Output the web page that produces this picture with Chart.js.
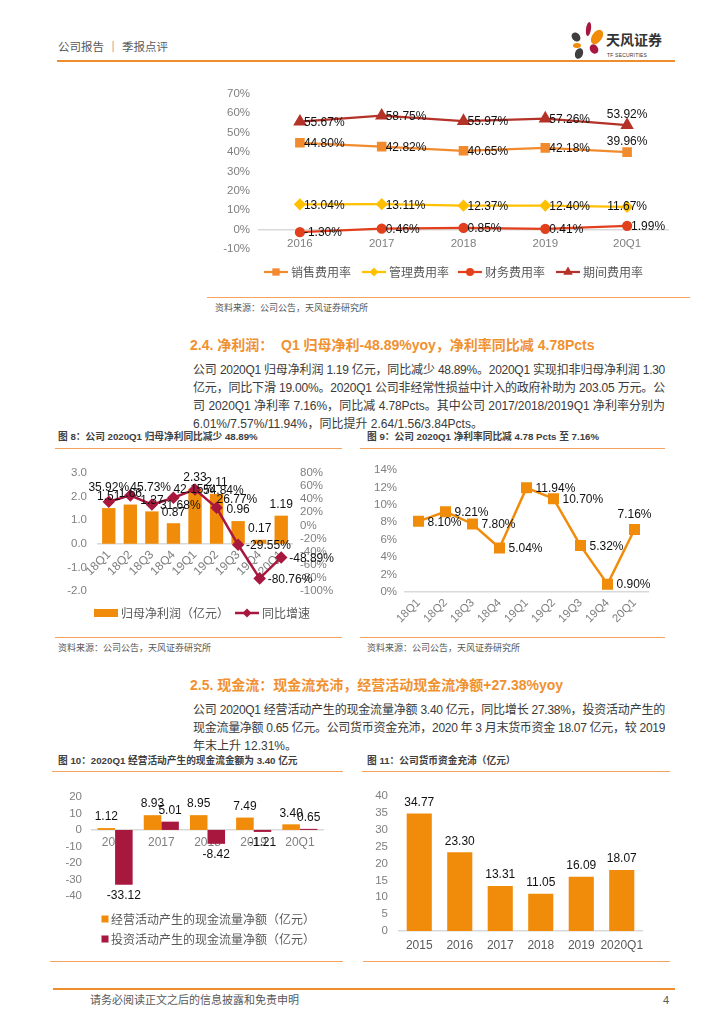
<!DOCTYPE html>
<html lang="zh-CN">
<head>
<meta charset="utf-8">
<title>季报点评</title>
<script src="https://cdn.jsdelivr.net/npm/chart.js@4.4.1/dist/chart.umd.min.js"></script>
<style>
  body { margin: 0; width: 724px; height: 1024px; position: relative; overflow: hidden; background: #fff;
         font-family: "Liberation Sans", "Noto Sans CJK SC", sans-serif; color: #333; }
  .abs { position: absolute; white-space: nowrap; }
  .rule { position: absolute; height: 0; border-top: 1px solid #F5A460; }
  .thick { border-top: 2px solid #EF8C2C; }
  .h2 { position: absolute; left: 190px; font-size: 14px; font-weight: bold; color: #F0912F; line-height: 20px; white-space: nowrap; }
  .para { position: absolute; left: 193px; width: 472px; font-size: 12px; line-height: 18px; color: #3a3a3a; }
  .para div { white-space: nowrap; overflow: hidden; text-align: justify; text-align-last: justify; }
  .para div.last { text-align-last: left; }
  .ftitle { position: absolute; font-size: 9.7px; font-weight: bold; color: #404040; line-height: 14px; white-space: nowrap; }
  .src { position: absolute; font-size: 9px; color: #595959; line-height: 12px; white-space: nowrap; }
  canvas { position: absolute; }
  .petal { position: absolute; border-radius: 50%; }
</style>
</head>
<body>

<!-- header -->
<div class="abs" style="left:58px; top:40px; font-size:11.5px; color:#595959; line-height:14px;">公司报告 ｜ 季报点评</div>
<div class="petal" style="left:586px; top:22px; width:5px; height:14px; background:#A8173D; transform:rotate(8deg);"></div>
<div class="petal" style="left:592px; top:29px; width:10px; height:16px; background:#F08C0A; transform:rotate(35deg);"></div>
<div class="petal" style="left:572px; top:32px; width:8px; height:10px; background:#3f3f3f; transform:rotate(-40deg);"></div>
<div class="petal" style="left:573px; top:43px; width:8px; height:5px; background:#F08C0A;"></div>
<div class="petal" style="left:590px; top:44px; width:8px; height:10px; background:#A8173D; transform:rotate(-35deg);"></div>
<div class="petal" style="left:575px; top:48px; width:8px; height:11px; background:#3f3f3f; transform:rotate(20deg);"></div>
<div class="abs" style="left:606px; top:31px; font-size:14px; font-weight:bold; color:#333; line-height:16px; font-family:'Noto Sans CJK SC';">天风证券</div>
<div class="abs" style="left:607px; top:52px; font-size:5px; color:#333; line-height:6px; letter-spacing:0.2px;">TF SECURITIES</div>
<div class="rule thick" style="left:57px; top:60px; width:618px;"></div>

<!-- top chart -->
<canvas id="rateChart" width="485" height="210" style="left:205px; top:78px;"></canvas>
<div class="rule" style="left:207px; top:297px; width:483px;"></div>
<div class="src" style="left:215px; top:302px;">资料来源：公司公告，天风证券研究所</div>

<!-- 2.4 -->
<div class="h2" style="top:335px;">2.4. 净利润：&nbsp; Q1 归母净利-48.89%yoy，净利率同比减 4.78Pcts</div>
<div class="para" style="top:361px;">
  <div>公司 2020Q1 归母净利润 1.19 亿元，同比减少 48.89%。2020Q1 实现扣非归母净利润 1.30</div>
  <div>亿元，同比下滑 19.00%。2020Q1 公司非经常性损益中计入的政府补助为 203.05 万元。公</div>
  <div>司 2020Q1 净利率 7.16%，同比减 4.78Pcts。其中公司 2017/2018/2019Q1 净利率分别为</div>
  <div class="last">6.01%/7.57%/11.94%，同比提升 2.64/1.56/3.84Pcts。</div>
</div>

<div class="ftitle" style="left:58px; top:430px;">图 8：公司 2020Q1 归母净利同比减少 48.89%</div>
<div class="rule" style="left:55px; top:448px; width:287px;"></div>
<canvas id="profitChart" width="290" height="175" style="left:55px; top:455px;"></canvas>
<div class="rule" style="left:55px; top:637px; width:287px;"></div>
<div class="src" style="left:58px; top:642px;">资料来源：公司公告，天风证券研究所</div>

<div class="ftitle" style="left:367px; top:430px;">图 9：公司 2020Q1 净利率同比减 4.78 Pcts 至 7.16%</div>
<div class="rule" style="left:360px; top:448px; width:305px;"></div>
<canvas id="marginChart" width="305" height="175" style="left:360px; top:455px;"></canvas>
<div class="rule" style="left:360px; top:637px; width:305px;"></div>
<div class="src" style="left:367px; top:642px;">资料来源：公司公告，天风证券研究所</div>

<!-- 2.5 -->
<div class="h2" style="top:675px;">2.5. 现金流：现金流充沛，经营活动现金流净额+27.38%yoy</div>
<div class="para" style="top:701px;">
  <div>公司 2020Q1 经营活动产生的现金流量净额 3.40 亿元，同比增长 27.38%，投资活动产生的</div>
  <div>现金流量净额 0.65 亿元。公司货币资金充沛，2020 年 3 月末货币资金 18.07 亿元，较 2019</div>
  <div class="last">年末上升 12.31%。</div>
</div>

<div class="ftitle" style="left:58px; top:754px;">图 10：2020Q1 经营活动产生的现金流金额为 3.40 亿元</div>
<div class="rule" style="left:52px; top:771px; width:291px;"></div>
<canvas id="cashChart" width="290" height="175" style="left:55px; top:780px;"></canvas>
<div class="rule" style="left:50px; top:961px; width:293px;"></div>

<div class="ftitle" style="left:367px; top:754px;">图 11：公司货币资金充沛（亿元）</div>
<div class="rule" style="left:362px; top:771px; width:308px;"></div>
<canvas id="fundChart" width="300" height="180" style="left:360px; top:778px;"></canvas>
<div class="rule" style="left:363px; top:961px; width:307px;"></div>

<!-- footer -->
<div class="rule thick" style="left:53px; top:988px; width:622px;"></div>
<div class="abs" style="left:90px; top:993px; font-size:11px; color:#595959; line-height:14px;">请务必阅读正文之后的信息披露和免责申明</div>
<div class="abs" style="left:663px; top:993px; font-size:11px; color:#595959; line-height:14px;">4</div>

<script>
// squeeze any paragraph line that is wider than the column
document.querySelectorAll('.para div').forEach(line => {
    let ls = 0;
    while (line.scrollWidth > line.clientWidth && ls > -2) {
        ls -= 0.1;
        line.style.letterSpacing = ls.toFixed(1) + 'px';
    }
});
</script>

<script>
// 费用率
const yearLabels = ['2016', '2017', '2018', '2019', '20Q1'];
const salesRate = [44.80, 42.82, 40.65, 42.18, 39.96];
const adminRate = [13.04, 13.11, 12.37, 12.40, 11.67];
const financeRate = [-1.30, 0.46, 0.85, 0.41, 1.99];
const periodRate = [55.67, 58.75, 55.97, 57.26, 53.92];

// 归母净利 / 净利率
const quarterLabels = ['18Q1', '18Q2', '18Q3', '18Q4', '19Q1', '19Q2', '19Q3', '19Q4', '20Q1'];
const netProfit = [1.51, 1.66, 1.37, 0.87, 2.33, 2.11, 0.96, 0.17, 1.19];
const profitYoy = [35.92, 45.73, 31.68, 42.15, 54.84, 26.77, -29.55, -80.76, -48.89];
const netMargin = [8.10, 9.21, 7.80, 5.04, 11.94, 10.70, 5.32, 0.90, 7.16];

// 现金流
const cashLabels = ['2016', '2017', '2018', '2019', '20Q1'];
const operatingCash = [1.12, 8.93, 8.95, 7.49, 3.40];
const investingCash = [-33.12, 5.01, -8.42, -1.21, 0.65];

// 货币资金
const fundLabels = ['2015', '2016', '2017', '2018', '2019', '2020Q1'];
const monetaryFunds = [34.77, 23.30, 13.31, 11.05, 16.09, 18.07];

const ORANGE = '#F08C0A';
const CRIMSON = '#A8173D';
const AXIS_GRAY = '#595959';
const LINE_GRAY = '#D9D9D9';
const NUM_FONT = '"Liberation Sans", Arial, sans-serif';

Chart.defaults.font.family = NUM_FONT;
Chart.defaults.color = AXIS_GRAY;

const drawMarker = (ctx, style, r, x, y) => {
    ctx.beginPath();
    if (style === 'rect') {
        const s = r * Math.SQRT1_2;
        ctx.rect(x - s, y - s, 2 * s, 2 * s);
    } else if (style === 'rectRot') {
        ctx.moveTo(x, y - r); ctx.lineTo(x + r, y); ctx.lineTo(x, y + r); ctx.lineTo(x - r, y);
        ctx.closePath();
    } else if (style === 'triangle') {
        for (let k = 0; k < 3; k++) {
            const a = k * 2 * Math.PI / 3;
            ctx[k ? 'lineTo' : 'moveTo'](x + Math.sin(a) * r, y - Math.cos(a) * r);
        }
        ctx.closePath();
    } else {
        ctx.arc(x, y, r, 0, Math.PI * 2);
    }
    ctx.fill();
};

// data labels, read from the drawn elements
const pointLabels = {
    id: 'pointLabels',
    afterDatasetsDraw(chart) {
        const ctx = chart.ctx;
        chart.data.datasets.forEach((ds, i) => {
            if (!ds.labelAt) return;
            const meta = chart.getDatasetMeta(i);
            const gap = ds.labelGap || 5;
            ctx.save();
            ctx.font = '12px ' + NUM_FONT;
            ctx.fillStyle = '#111';
            ctx.textBaseline = 'middle';
            meta.data.forEach((el, j) => {
                const v = ds.data[j];
                let mode = Array.isArray(ds.labelAt) ? ds.labelAt[j] : ds.labelAt;
                if (mode === 'end') mode = v < 0 ? 'b' : 't';
                let x = el.x, y = el.y;
                ctx.textAlign = 'center';
                if (mode === 'r') { ctx.textAlign = 'left'; x += gap; y += 1; }
                else if (mode === 'tr') { ctx.textAlign = 'left'; y -= gap; }
                else if (mode === 't') { y -= gap + 6; }
                else if (mode === 'b') { y += gap + 6; }
                ctx.fillText(ds.labelFormat(v), x, y);
            });
            ctx.restore();
        });
    }
};

// legend row drawn from the dataset styles
const rowLegend = {
    id: 'rowLegend',
    afterDraw(chart, args, opts) {
        if (!opts || !opts.items) return;
        const ctx = chart.ctx;
        ctx.save();
        ctx.font = '12px "Noto Sans CJK SC", sans-serif';
        ctx.textBaseline = 'middle';
        ctx.textAlign = 'left';
        opts.items.forEach(it => {
            const ds = chart.data.datasets[it.ds];
            let textX;
            if (it.kind === 'line') {
                ctx.strokeStyle = ds.borderColor;
                ctx.lineWidth = ds.borderWidth;
                ctx.beginPath();
                ctx.moveTo(it.x - 12, it.y);
                ctx.lineTo(it.x + 12, it.y);
                ctx.stroke();
                ctx.fillStyle = ds.pointBackgroundColor || ds.borderColor;
                drawMarker(ctx, ds.pointStyle, ds.pointRadius, it.x, it.y);
                textX = it.x + 15;
            } else if (it.kind === 'bar') {
                ctx.fillStyle = ds.backgroundColor;
                ctx.fillRect(it.x - 12, it.y - 4, 24, 8);
                textX = it.x + 15;
            } else {
                ctx.fillStyle = ds.backgroundColor;
                ctx.fillRect(it.x - 3.5, it.y - 3.5, 7, 7);
                textX = it.x + 6;
            }
            ctx.fillStyle = AXIS_GRAY;
            ctx.fillText(ds.label, textX, it.y);
        });
        ctx.restore();
    }
};

Chart.register(pointLabels, rowLegend);

const pct = v => v.toFixed(2) + '%';
const num = v => v.toFixed(2);

const baseOptions = (extra) => Object.assign({
    responsive: false,
    animation: false,
    events: [],
}, extra);

const hiddenPlugins = (legendItems) => ({
    legend: { display: false },
    tooltip: { enabled: false },
    rowLegend: { items: legendItems }
});

const lineSet = (label, data, color, style, radius, labelAt, width) => ({
    type: 'line',
    label: label,
    data: data,
    borderColor: color,
    backgroundColor: color,
    pointBackgroundColor: color,
    pointBorderColor: color,
    pointStyle: style,
    pointRadius: radius,
    borderWidth: width || 2.25,
    tension: 0,
    labelAt: labelAt,
    labelFormat: pct,
    labelGap: 4
});

const yAxis = (min, max, step, pad, width, fmt, extra) => Object.assign({
    min: min, max: max,
    grid: { display: false, drawTicks: false },
    border: { display: false },
    ticks: { stepSize: step, padding: pad, autoSkip: false, font: { size: 11.5 }, color: '#7f7f7f', callback: fmt },
    afterFit: s => { s.width = width; }
}, extra || {});

// 费用率折线
new Chart(document.getElementById('rateChart'), {
    type: 'line',
    data: {
        labels: yearLabels,
        datasets: [
            lineSet('销售费用率', salesRate, '#F28A2E', 'rect', 5.2, ['r', 'r', 'r', 'r', 't']),
            lineSet('管理费用率', adminRate, '#FFC000', 'rectRot', 4.5, ['r', 'r', 'r', 'r', 'c']),
            lineSet('财务费用率', financeRate, '#E2401C', 'circle', 4, 'r'),
            lineSet('期间费用率', periodRate, '#B53228', 'triangle', 5.5, ['r', 'r', 'r', 'r', 't'])
        ]
    },
    options: baseOptions({
        layout: { padding: { top: 12, bottom: 39, right: 22, left: 0 } },
        scales: {
            x: {
                offset: true,
                position: { y: 0 },
                grid: { display: false, drawTicks: false },
                border: { color: LINE_GRAY, width: 1.5 },
                ticks: { padding: 7, maxRotation: 0, font: { size: 11.5 }, color: '#7f7f7f' }
            },
            y: yAxis(-10, 70, 10, 9, 54, v => v + '%')
        },
        plugins: hiddenPlugins([
            { ds: 0, kind: 'line', x: 71, y: 194 },
            { ds: 1, kind: 'line', x: 169, y: 194 },
            { ds: 2, kind: 'line', x: 265, y: 194 },
            { ds: 3, kind: 'line', x: 363, y: 194 }
        ])
    })
});

// 图8 归母净利润 + 同比增速
new Chart(document.getElementById('profitChart'), {
    data: {
        labels: quarterLabels,
        datasets: [
            Object.assign(lineSet('同比增速', profitYoy, CRIMSON, 'rectRot', 4.5,
                ['t', 'tr', 'r', 'tr', 'r', 'tr', 'r', 'r', 'r'], 2.5), { yAxisID: 'y1', labelGap: 8 }),
            {
                type: 'bar',
                label: '归母净利润（亿元）',
                data: netProfit,
                backgroundColor: ORANGE,
                yAxisID: 'y',
                categoryPercentage: 1,
                barPercentage: 0.62,
                labelAt: 't',
                labelGap: 5,
                labelFormat: num
            }
        ]
    },
    options: baseOptions({
        layout: { padding: { top: 12, bottom: 39, right: 0, left: 0 } },
        scales: {
            x: {
                offset: true,
                position: { y: 0 },
                grid: { display: false, drawTicks: false },
                border: { color: LINE_GRAY, width: 1.5 },
                ticks: { padding: 4, minRotation: 45, maxRotation: 45, autoSkip: false, font: { size: 12 }, color: '#7f7f7f' }
            },
            y: yAxis(-2, 3, 1, 11, 43, v => v.toFixed(1), { position: 'left' }),
            y1: yAxis(-100, 80, 20, 8, 53, v => v + '%', { position: 'right' })
        },
        plugins: hiddenPlugins([
            { ds: 1, kind: 'bar', x: 51, y: 158 },
            { ds: 0, kind: 'line', x: 192, y: 158 }
        ])
    })
});

// 图9 净利率
new Chart(document.getElementById('marginChart'), {
    type: 'line',
    data: {
        labels: quarterLabels,
        datasets: [
            Object.assign(lineSet('净利率', netMargin, ORANGE, 'rect', 6,
                ['r', 'r', 'r', 'r', 'r', 'r', 'r', 'r', 't'], 2.5), { labelGap: 9 })
        ]
    },
    options: baseOptions({
        layout: { padding: { top: 11, bottom: 0, right: 17, left: 0 } },
        scales: {
            x: {
                offset: true,
                grid: { display: false, drawTicks: false },
                border: { color: LINE_GRAY, width: 1.5 },
                ticks: { padding: 4, minRotation: 45, maxRotation: 45, autoSkip: false, font: { size: 11.5 }, color: '#7f7f7f' },
                afterFit: s => { s.height = 38; }
            },
            y: yAxis(0, 14, 2, 8, 45, v => v + '%')
        },
        plugins: hiddenPlugins(null)
    })
});

// 图10 现金流
new Chart(document.getElementById('cashChart'), {
    type: 'bar',
    data: {
        labels: cashLabels,
        datasets: [
            {
                label: '经营活动产生的现金流量净额（亿元）',
                data: operatingCash,
                backgroundColor: ORANGE,
                categoryPercentage: 0.76,
                barPercentage: 1,
                labelAt: 'end', labelGap: 5, labelFormat: num
            },
            {
                label: '投资活动产生的现金流量净额（亿元）',
                data: investingCash,
                backgroundColor: CRIMSON,
                categoryPercentage: 0.76,
                barPercentage: 1,
                labelAt: 'end', labelGap: 5, labelFormat: num
            }
        ]
    },
    options: baseOptions({
        layout: { padding: { top: 11, bottom: 59, right: 22, left: 0 } },
        scales: {
            x: {
                position: { y: 0 },
                grid: { display: false, drawTicks: false },
                border: { color: LINE_GRAY, width: 1.5 },
                ticks: { padding: 6, maxRotation: 0, font: { size: 12 }, color: '#7f7f7f' }
            },
            y: yAxis(-40, 20, 10, 10, 37, v => v)
        },
        plugins: hiddenPlugins([
            { ds: 0, kind: 'square', x: 50, y: 139 },
            { ds: 1, kind: 'square', x: 50, y: 159 }
        ])
    })
});

// 图11 货币资金
new Chart(document.getElementById('fundChart'), {
    type: 'bar',
    data: {
        labels: fundLabels,
        datasets: [
            {
                label: '货币资金（亿元）',
                data: monetaryFunds,
                backgroundColor: ORANGE,
                categoryPercentage: 1,
                barPercentage: 0.62,
                labelAt: 't', labelGap: 5, labelFormat: num
            }
        ]
    },
    options: baseOptions({
        layout: { padding: { top: 10, bottom: 0, right: 18, left: 0 } },
        scales: {
            x: {
                grid: { display: false, drawTicks: false },
                border: { color: LINE_GRAY, width: 1.5 },
                ticks: { padding: 7, maxRotation: 0, autoSkip: false, font: { size: 12 }, color: AXIS_GRAY },
                afterFit: s => { s.height = 27; }
            },
            y: yAxis(0, 40, 5, 11, 39, v => v)
        },
        plugins: hiddenPlugins(null)
    })
});
</script>
</body>
</html>
